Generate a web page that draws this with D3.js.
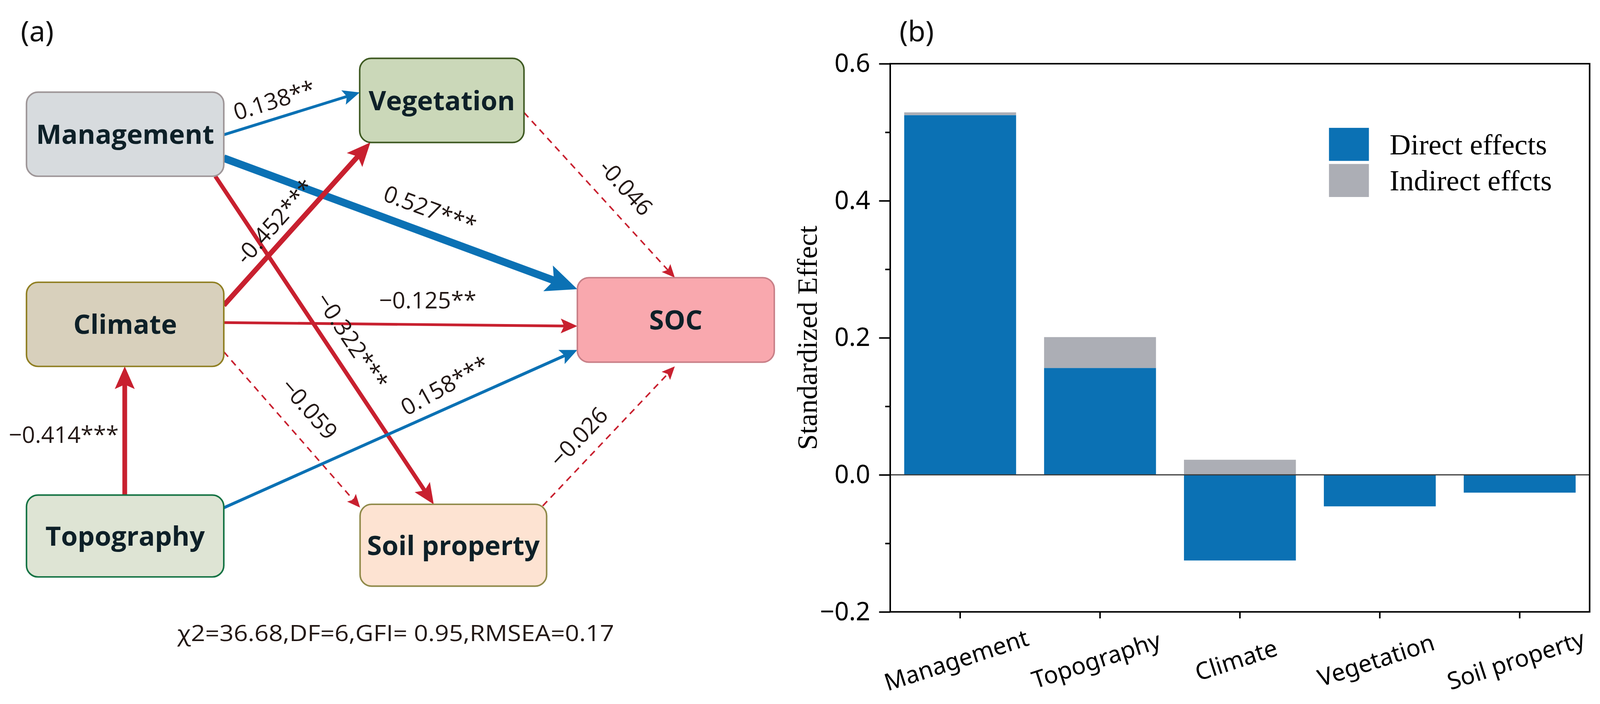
<!DOCTYPE html>
<html>
<head>
<meta charset="utf-8">
<script src="https://cdn.jsdelivr.net/npm/d3@7"></script>
<style>
  html, body { margin: 0; padding: 0; background: #fff; overflow: hidden; }
  svg { display: block; }
</style>
</head>
<body>
<div id="chart"></div>
<script>
// --------------------------------------------------
// 1. Data
// --------------------------------------------------
// (a) structural equation model paths
const nodeNames = ["Management", "Vegetation", "Climate", "SOC", "Topography", "Soil property"];
const pathFrom = ["Management", "Management", "Management", "Climate", "Climate", "Climate", "Topography", "Topography", "Vegetation", "Soil property"];
const pathTo = ["Vegetation", "SOC", "Soil property", "Vegetation", "SOC", "Soil property", "Climate", "SOC", "SOC", "SOC"];
const pathCoef = [0.138, 0.527, -0.322, -0.452, -0.125, -0.059, -0.414, 0.158, -0.046, -0.026];
const pathLabel = ["0.138**", "0.527***", "\u22120.322***", "-0.452***", "\u22120.125**", "\u22120.059", "\u22120.414***", "0.158***", "-0.046", "\u22120.026"];
const pathSignificant = [true, true, true, true, true, false, true, true, false, false];
const fitText = "\u03c72=36.68,DF=6,GFI= 0.95,RMSEA=0.17";

// (b) standardized effects on SOC
const effectFactors = ["Management", "Topography", "Climate", "Vegetation", "Soil property"];
const directEffects = [0.525, 0.156, -0.125, -0.046, -0.026];
const indirectEffects = [0.004, 0.045, 0.022, 0, 0];
const yMajorTicks = [-0.2, 0, 0.2, 0.4, 0.6];
const yMinorTicks = [-0.1, 0.1, 0.3, 0.5];
const legendLabels = ["Direct effects", "Indirect effcts"];

// --------------------------------------------------
// 2. Layout (diagram geometry, not data)
// --------------------------------------------------
const nodeLayout = {
  "Management":    { x: 69,  y: 224,  w: 514, h: 219, fill: "#d7dbde", stroke: "#9e9698" },
  "Vegetation":    { x: 937, y: 136,  w: 428, h: 219, fill: "#cbd8b9", stroke: "#3f5a22" },
  "Climate":       { x: 69,  y: 719,  w: 514, h: 219, fill: "#d8d0bc", stroke: "#907f22" },
  "SOC":           { x: 1504, y: 707, w: 513, h: 220, fill: "#f9a8ae", stroke: "#c98088" },
  "Topography":    { x: 69,  y: 1273, w: 514, h: 213, fill: "#dee4d4", stroke: "#137243" },
  "Soil property": { x: 938, y: 1297, w: 486, h: 213, fill: "#fde3d2", stroke: "#908a4a" }
};

// anchors as fractions of the source / target boxes, label place along the path
const pathLayout = [
  { s: [1, 0.507],    e: [0, 0.406],   t: 0.41,  off: 47 },
  { s: [1, 0.785],    e: [0, 0.136],   t: 0.56,  off: 62 },
  { s: [0.957, 1],    e: [0.395, 0],   t: 0.54,  off: 59 },
  { s: [1, 0.274],    e: [0.065, 1],   t: 0.44,  off: 47 },
  { s: [1, 0.479],    e: [0, 0.573],   t: 0.576, off: 64, rot: 0 },
  { s: [1, 0.826],    e: [0, 0.04],    t: 0.48,  off: 70 },
  { s: [0.498, 0],    e: [0.498, 1],   t: 0.47,  off: 159, rot: 0 },
  { s: [1, 0.155],    e: [0, 0.855],   t: 0.65,  off: 56, rot: -29 },
  { s: [1, 0.644],    e: [0.495, 0],   t: 0.555, off: 65 },
  { s: [0.979, 0.02], e: [0.495, 1.05], t: 0.39, off: 56 }
];

const width = 4168;
const height = 1801;
const blue = "#0b71b4";
const red = "#c8202f";

const svg = d3.select("#chart")
  .append("svg")
  .attr("width", "100vw")
  .attr("height", "100vh")
  .attr("viewBox", `0 0 ${width} ${height}`)
  .attr("preserveAspectRatio", "xMidYMid meet");

svg.append("rect").attr("width", width).attr("height", height).attr("fill", "#fff");

// --------------------------------------------------
// 3. Panel (a): path diagram
// --------------------------------------------------
const panelA = svg.append("g");

panelA.append("text")
  .attr("x", 54).attr("y", 92)
  .attr("font-family", "Noto Sans, sans-serif")
  .attr("font-size", 74)
  .attr("fill", "#111")
  .text("(a)");

const widthScale = d3.scaleLinear()
  .domain([0.12, 0.45, 0.53])
  .range([7, 13, 20])
  .clamp(true);

const paths = pathFrom.map((from, i) => {
  const a = nodeLayout[from];
  const b = nodeLayout[pathTo[i]];
  const lay = pathLayout[i];
  const sx = a.x + lay.s[0] * a.w, sy = a.y + lay.s[1] * a.h;
  const ex = b.x + lay.e[0] * b.w, ey = b.y + lay.e[1] * b.h;
  const len = Math.hypot(ex - sx, ey - sy);
  const ux = (ex - sx) / len, uy = (ey - sy) / len;
  const sw = pathSignificant[i] ? widthScale(Math.abs(pathCoef[i])) : 4;
  const headLen = 22 + 3 * sw;
  const headHalf = 10 + 1.3 * sw;
  const ang = Math.atan2(uy, ux) * 180 / Math.PI;
  const labelAng = lay.rot !== undefined ? lay.rot : ang;
  return {
    sx, sy, ex, ey, ux, uy, len, sw, headLen, headHalf, ang, labelAng,
    lx: sx + lay.t * len * ux + lay.off * uy,
    ly: sy + lay.t * len * uy - lay.off * ux,
    color: pathCoef[i] >= 0 ? blue : red,
    dashed: !pathSignificant[i],
    label: pathLabel[i]
  };
});

// lines
panelA.selectAll(".path-line")
  .data(paths)
  .enter()
  .append("line")
  .attr("class", "path-line")
  .attr("x1", d => d.sx)
  .attr("y1", d => d.sy)
  .attr("x2", d => d.ex - d.ux * d.headLen * 0.75)
  .attr("y2", d => d.ey - d.uy * d.headLen * 0.75)
  .attr("stroke", d => d.color)
  .attr("stroke-width", d => d.sw)
  .attr("stroke-dasharray", d => d.dashed ? "17,13" : null);

// arrow heads
panelA.selectAll(".path-head")
  .data(paths)
  .enter()
  .append("path")
  .attr("class", "path-head")
  .attr("transform", d => `translate(${d.ex},${d.ey}) rotate(${d.ang})`)
  .attr("d", d => `M0,0 L${-d.headLen},${-d.headHalf} L${-d.headLen * 0.8},0 L${-d.headLen},${d.headHalf} Z`)
  .attr("fill", d => d.color);

// boxes
const nodes = panelA.selectAll(".node")
  .data(nodeNames)
  .enter()
  .append("g")
  .attr("class", "node");

nodes.append("rect")
  .attr("x", d => nodeLayout[d].x)
  .attr("y", d => nodeLayout[d].y)
  .attr("width", d => nodeLayout[d].w)
  .attr("height", d => nodeLayout[d].h)
  .attr("rx", 30)
  .attr("fill", d => nodeLayout[d].fill)
  .attr("stroke", d => nodeLayout[d].stroke)
  .attr("stroke-width", 4);

nodes.append("text")
  .attr("x", d => nodeLayout[d].x + nodeLayout[d].w / 2)
  .attr("y", d => nodeLayout[d].y + nodeLayout[d].h / 2)
  .attr("dy", "0.36em")
  .attr("text-anchor", "middle")
  .attr("font-family", "Open Sans, sans-serif")
  .attr("font-weight", 700)
  .attr("font-size", 70)
  .attr("fill", "#0e2028")
  .text(d => d);

// coefficient labels
panelA.selectAll(".path-label")
  .data(paths)
  .enter()
  .append("text")
  .attr("class", "path-label")
  .attr("transform", d => `translate(${d.lx},${d.ly}) rotate(${d.labelAng})`)
  .attr("dy", "0.36em")
  .attr("text-anchor", "middle")
  .attr("font-family", "Open Sans, sans-serif")
  .attr("font-size", 60)
  .attr("fill", "#231815")
  .text(d => d.label);

panelA.append("text")
  .attr("x", 1031).attr("y", 1653)
  .attr("text-anchor", "middle")
  .attr("font-family", "Open Sans, sans-serif")
  .attr("font-size", 58)
  .attr("fill", "#231815")
  .attr("textLength", 1138)
  .attr("lengthAdjust", "spacingAndGlyphs")
  .text(fitText);

// --------------------------------------------------
// 4. Panel (b): stacked bar chart
// --------------------------------------------------
const plot = { left: 2319, right: 4141, top: 150, bottom: 1577 };
const panelB = svg.append("g");

panelB.append("text")
  .attr("x", 2343).attr("y", 92)
  .attr("font-family", "Noto Sans, sans-serif")
  .attr("font-size", 74)
  .attr("fill", "#111")
  .text("(b)");

const x = d3.scaleBand()
  .domain(effectFactors)
  .range([plot.left, plot.right])
  .paddingInner(0.2)
  .paddingOuter(0.1);

const y = d3.scaleLinear()
  .domain([-0.2, 0.6])
  .range([plot.bottom, plot.top]);

const rows = effectFactors.map((f, i) => ({ factor: f, direct: directEffects[i], indirect: indirectEffects[i] }));
const series = d3.stack()
  .keys(["direct", "indirect"])
  .offset(d3.stackOffsetDiverging)(rows);
const barColor = d3.scaleOrdinal().domain(["direct", "indirect"]).range([blue, "#acaeb5"]);

panelB.selectAll(".series")
  .data(series)
  .enter()
  .append("g")
  .attr("fill", d => barColor(d.key))
  .selectAll("rect")
  .data(d => d)
  .enter()
  .append("rect")
  .attr("x", d => x(d.data.factor))
  .attr("width", x.bandwidth())
  .attr("y", d => y(Math.max(d[0], d[1])))
  .attr("height", d => Math.abs(y(d[0]) - y(d[1])));

// zero line
panelB.append("line")
  .attr("x1", plot.left).attr("x2", plot.right)
  .attr("y1", y(0)).attr("y2", y(0))
  .attr("stroke", "#3a3a3a")
  .attr("stroke-width", 3);

// frame
panelB.append("rect")
  .attr("x", plot.left).attr("y", plot.top)
  .attr("width", plot.right - plot.left)
  .attr("height", plot.bottom - plot.top)
  .attr("fill", "none")
  .attr("stroke", "#000")
  .attr("stroke-width", 4);

// y axis
const yAxis = panelB.append("g")
  .attr("transform", `translate(${plot.left},0)`)
  .call(d3.axisLeft(y).tickValues(yMajorTicks).tickSize(29).tickPadding(23).tickFormat(d3.format(".1f")));
yAxis.select(".domain").remove();
yAxis.selectAll("line").attr("stroke-width", 4);
yAxis.selectAll("text")
  .attr("font-family", "Noto Sans, sans-serif")
  .attr("font-size", 66)
  .attr("fill", "#000");

const yMinor = panelB.append("g")
  .attr("transform", `translate(${plot.left},0)`)
  .call(d3.axisLeft(y).tickValues(yMinorTicks).tickSize(13).tickFormat(""));
yMinor.select(".domain").remove();
yMinor.selectAll("line").attr("stroke-width", 4);

// x axis
const xAxis = panelB.append("g")
  .attr("transform", `translate(0,${plot.bottom})`)
  .call(d3.axisBottom(x).tickSize(17).tickFormat(""));
xAxis.select(".domain").remove();
xAxis.selectAll("line").attr("stroke-width", 4);

panelB.selectAll(".x-label")
  .data(effectFactors)
  .enter()
  .append("text")
  .attr("class", "x-label")
  .attr("transform", d => `translate(${x(d) + x.bandwidth() / 2 - 10},${1702}) rotate(-18)`)
  .attr("dy", "0.36em")
  .attr("text-anchor", "middle")
  .attr("font-family", "Noto Sans, sans-serif")
  .attr("font-size", 62)
  .attr("fill", "#000")
  .text(d => d);

// y title
panelB.append("text")
  .attr("transform", `translate(2128,${(plot.top + plot.bottom) / 2}) rotate(-90)`)
  .attr("text-anchor", "middle")
  .attr("font-family", "Liberation Serif, Times New Roman, serif")
  .attr("font-size", 74)
  .attr("fill", "#000")
  .text("Standardized Effect");

// legend
const legend = panelB.selectAll(".legend")
  .data(legendLabels)
  .enter()
  .append("g")
  .attr("class", "legend")
  .attr("transform", (d, i) => `translate(3462,${317 + i * 94})`);

legend.append("rect")
  .attr("width", 104)
  .attr("height", 86)
  .attr("fill", (d, i) => barColor(["direct", "indirect"][i]));

legend.append("text")
  .attr("x", 158)
  .attr("y", 69)
  .attr("font-family", "Liberation Serif, Times New Roman, serif")
  .attr("font-size", 76)
  .attr("fill", "#000")
  .text(d => d);
</script>
</body>
</html>
